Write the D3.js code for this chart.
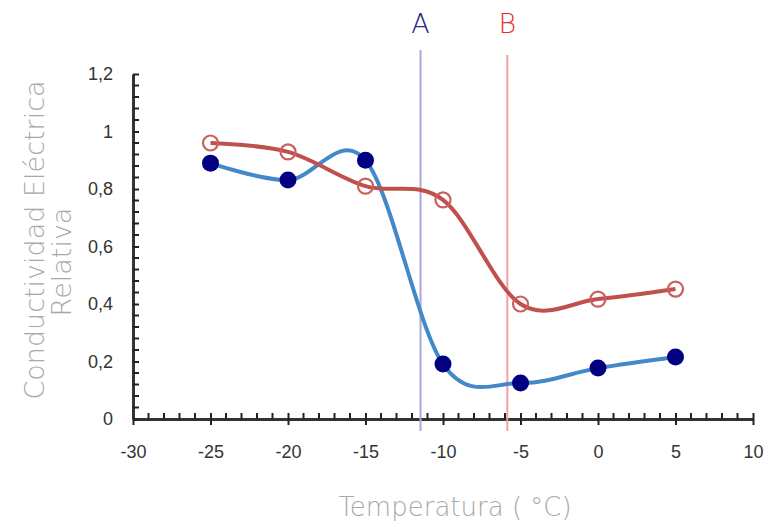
<!DOCTYPE html>
<html>
<head>
<meta charset="utf-8">
<script src="https://cdn.jsdelivr.net/npm/d3@7"></script>
<style>
  body { margin: 0; background: #fff; }
  svg { display: block; font-family: "Liberation Sans", Arial, sans-serif; }
  .titulo { font-family: "DejaVu Sans", sans-serif; font-weight: 200; }
</style>
</head>
<body>
<script>
var temps = [-25, -20, -15, -10, -5, 0, 5];
var serieAzul = [0.89, 0.831, 0.90, 0.191, 0.125, 0.177, 0.216];
var serieRoja = [0.96, 0.929, 0.81, 0.762, 0.40, 0.417, 0.452];
var xTicks = [-30, -25, -20, -15, -10, -5, 0, 5, 10];
var yTicks = [0, 0.2, 0.4, 0.6, 0.8, 1, 1.2];
var marcas = [{label: "A", t: -11.45}, {label: "B", t: -5.85}];

var width = 766, height = 524;
var margin = {top: 74, right: 13, bottom: 105, left: 133};

var svg = d3.select("body").append("svg")
  .attr("width", width)
  .attr("height", height);

var x = d3.scaleLinear().domain([-30, 10]).range([margin.left, width - margin.right]);
var y = d3.scaleLinear().domain([0, 1.2]).range([height - margin.bottom, margin.top]);

var fmt = function(d) { return String(d).replace(".", ","); };

// minor ticks
var xMinor = d3.range(-30, 10.01, 1).filter(function(d) { return d % 5 !== 0; });
var yMinor = d3.range(0, 1.2001, 0.04).filter(function(d) { return Math.abs(d / 0.2 - Math.round(d / 0.2)) > 0.01; });

var ax = svg.append("g").attr("transform", "translate(0," + y(0) + ")");
ax.call(d3.axisBottom(x).tickValues(xTicks).tickFormat(fmt).tickSizeInner(6).tickSizeOuter(0).tickPadding(20));
ax.selectAll(".tick line").attr("y1", -6).attr("stroke", "#222").attr("stroke-width", 2);
ax.select(".domain").attr("stroke", "#333").attr("stroke-width", 3);
ax.selectAll("text").attr("font-size", 18).attr("fill", "#333");
ax.selectAll(".minor").data(xMinor).enter().append("line")
  .attr("x1", function(d) { return x(d); }).attr("x2", function(d) { return x(d); })
  .attr("y1", -6).attr("y2", 0)
  .attr("stroke", "#222").attr("stroke-width", 2);

var ay = svg.append("g").attr("transform", "translate(" + x(-30) + ",0)");
ay.call(d3.axisLeft(y).tickValues(yTicks).tickFormat(fmt).tickSizeInner(6).tickSizeOuter(0).tickPadding(14));
ay.selectAll(".tick line").attr("x2", 6).attr("stroke", "#222").attr("stroke-width", 2);
ay.select(".domain").attr("stroke", "#333").attr("stroke-width", 3);
ay.selectAll("text").attr("font-size", 18).attr("fill", "#333");
ay.selectAll(".minor").data(yMinor).enter().append("line")
  .attr("y1", function(d) { return y(d); }).attr("y2", function(d) { return y(d); })
  .attr("x1", 0).attr("x2", 6)
  .attr("stroke", "#222").attr("stroke-width", 2);

// lineas verticales A y B
var colMarca = {A: {line: "#a8a8d8", text: "#2a2a85"}, B: {line: "#f5a0a0", text: "#e53030"}};
marcas.forEach(function(m) {
  svg.append("line")
    .attr("x1", x(m.t)).attr("x2", x(m.t))
    .attr("y1", m.label === "A" ? 50 : 55).attr("y2", y(0) + 12)
    .attr("stroke", colMarca[m.label].line).attr("stroke-width", 2);
  svg.append("text")
    .attr("class", "titulo")
    .attr("x", x(m.t)).attr("y", 33)
    .attr("text-anchor", "middle")
    .attr("font-size", 27)
    .attr("fill", colMarca[m.label].text)
    .text(m.label);
});

var line = d3.line()
  .x(function(d) { return x(d[0]); })
  .y(function(d) { return y(d[1]); })
  .curve(d3.curveCardinal.tension(0));

var azul = temps.map(function(t, i) { return [t, serieAzul[i]]; });
var roja = temps.map(function(t, i) { return [t, serieRoja[i]]; });

svg.append("path").datum(azul)
  .attr("d", line).attr("fill", "none")
  .attr("stroke", "#4388c8").attr("stroke-width", 4);
svg.selectAll(".pa").data(azul).enter().append("circle")
  .attr("cx", function(d) { return x(d[0]); })
  .attr("cy", function(d) { return y(d[1]); })
  .attr("r", 8.5).attr("fill", "#000080");

svg.append("path").datum(roja)
  .attr("d", line).attr("fill", "none")
  .attr("stroke", "#c0504d").attr("stroke-width", 4);
svg.selectAll(".pr").data(roja).enter().append("circle")
  .attr("cx", function(d) { return x(d[0]); })
  .attr("cy", function(d) { return y(d[1]); })
  .attr("r", 7.5).attr("fill", "none")
  .attr("stroke", "#c8605c").attr("stroke-width", 2.2);

// titulos
svg.append("text")
  .attr("class", "titulo")
  .attr("x", 455).attr("y", 516)
  .attr("text-anchor", "middle")
  .attr("font-size", 26).attr("fill", "#a8a8a8")
  .text("Temperatura ( °C)");

svg.append("text")
  .attr("class", "titulo")
  .attr("transform", "translate(44,240) rotate(-90)")
  .attr("text-anchor", "middle")
  .attr("font-size", 27).attr("fill", "#a8a8a8")
  .text("Conductividad Eléctrica");
svg.append("text")
  .attr("class", "titulo")
  .attr("transform", "translate(71,262) rotate(-90)")
  .attr("text-anchor", "middle")
  .attr("font-size", 27).attr("fill", "#a8a8a8")
  .text("Relativa");
</script>
</body>
</html>
